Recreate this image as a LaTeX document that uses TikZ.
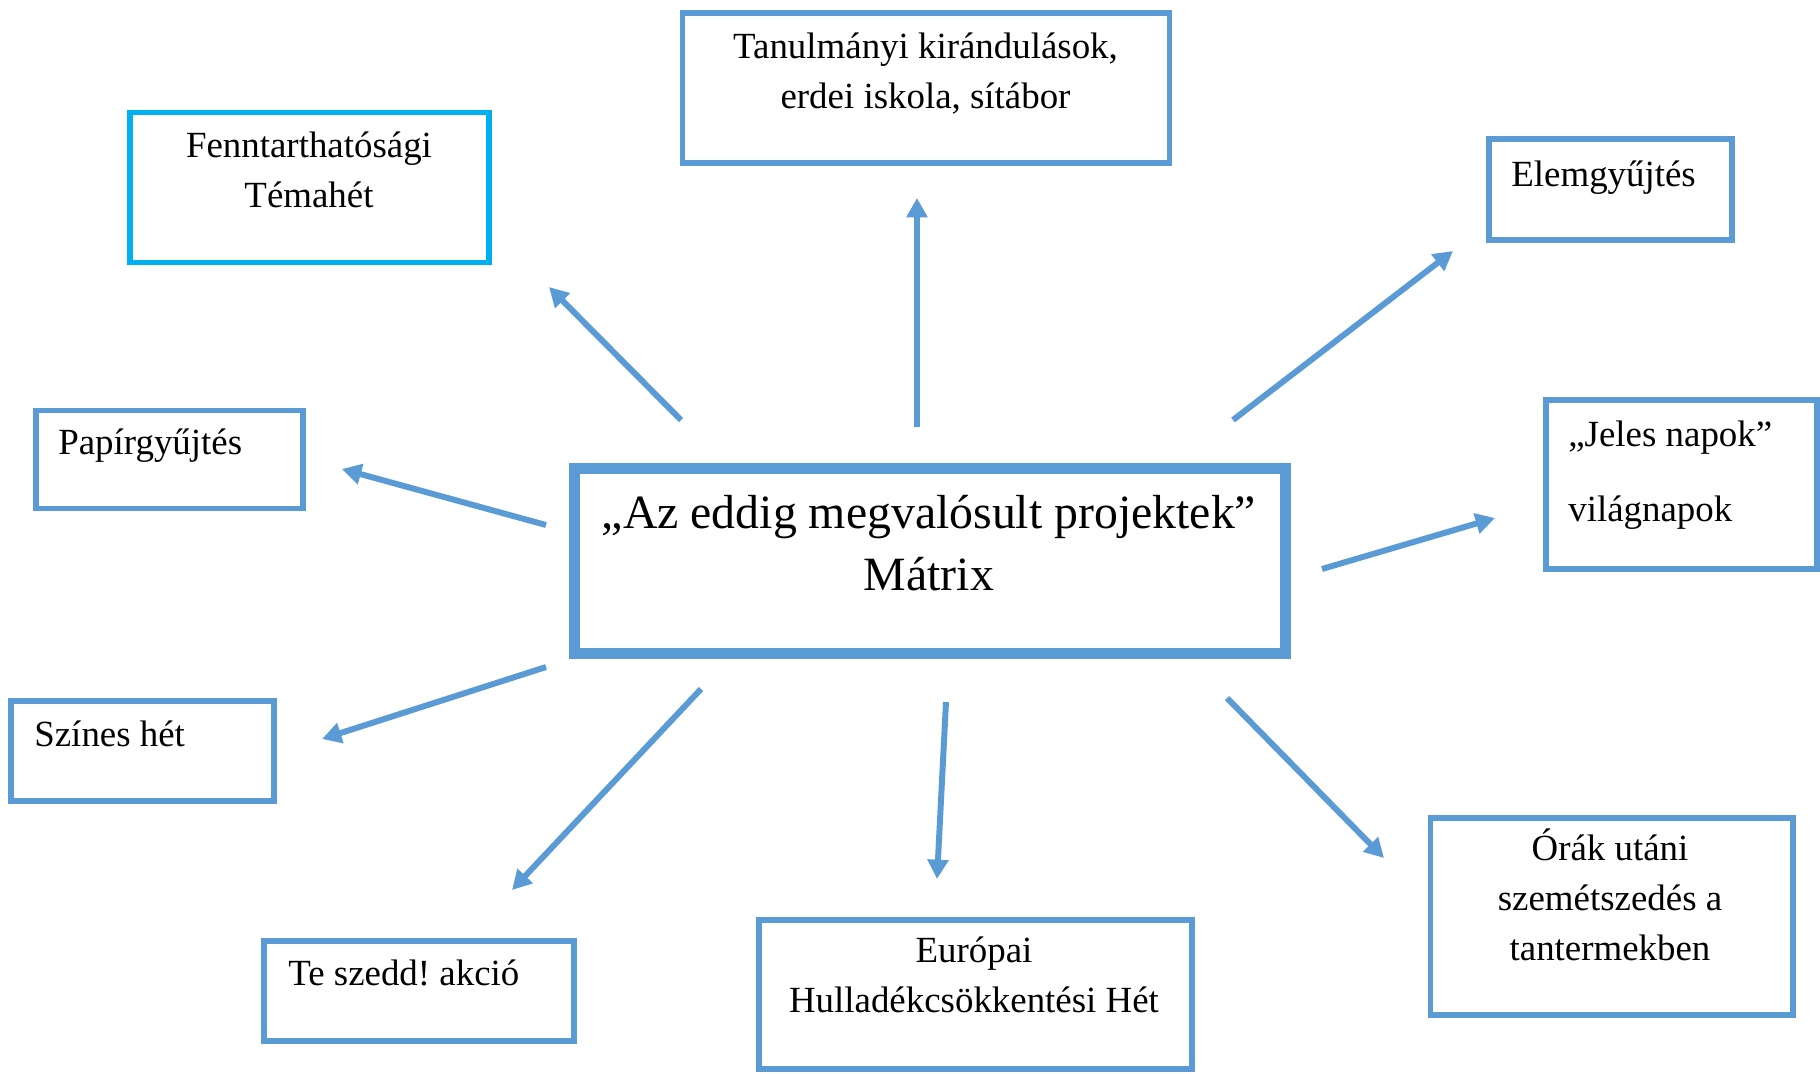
\documentclass[tikz,border=0pt]{standalone}
\usepackage{fontspec}
\setmainfont{Liberation Serif}
\frenchspacing
\usetikzlibrary{positioning, arrows.meta}
\definecolor{accentblue}{RGB}{91,155,213}
\definecolor{skyblue}{RGB}{0,176,240}
\tikzstyle{arrow} = [line width=3.4pt, draw=accentblue, -{Triangle[length=11pt,width=11.5pt]}]
\tikzstyle{projbox} = [rectangle, draw=accentblue, line width=3.4pt]
\tikzstyle{projtext} = [inner sep=0pt, font=\fontsize{21}{28.3}\selectfont]
\tikzset{boxsize/.style 2 args={minimum width=#1*0.02cm, minimum height=#2*0.02cm}}

\begin{document}
\begin{tikzpicture}[x=0.02cm,y=-0.02cm]
	\useasboundingbox (0,0) rectangle (1820,1073);
	% frames
	\node[projbox, line width=6.5pt, boxsize={711}{185}](matrix) at (930,561) {};
	\node[projbox, boxsize={487}{150}](tanul) at (926,88) {};
	\node[projbox, draw=skyblue, boxsize={359}{150}](fennt) at (309.5,187.5) {};
	\node[projbox, boxsize={243}{101}](elem) at (1610.5,189.5) {};
	\node[projbox, boxsize={267}{98}](papir) at (169.5,459.5) {};
	\node[projbox, boxsize={271}{169}](jeles) at (1681.5,484.5) {};
	\node[projbox, boxsize={263}{100}](szines) at (142.5,751) {};
	\node[projbox, boxsize={310}{100}](teszedd) at (419,991) {};
	\node[projbox, boxsize={433}{149}](europai) at (975.5,994) {};
	\node[projbox, boxsize={362}{197}](orak) at (1611.5,916) {};
	% texts (base = last line)
	\node[projtext, anchor=base, align=center, font=\fontsize{27.2}{35.1}\selectfont](matrix_t) at (929,590) {„Az eddig megvalósult projektek”\\Mátrix};
	\node[projtext, anchor=base, align=center](tanul_t) at (925.5,108) {Tanulmányi kirándulások,\\erdei iskola, sítábor};
	\node[projtext, anchor=base, align=center](fennt_t) at (309,207) {Fenntarthatósági\\Témahét};
	\node[projtext, anchor=base west](elem_t) at (1511,186) {Elemgyűjtés};
	\node[projtext, anchor=base west](papir_t) at (58,454) {Papírgyűjtés};
	\node[projtext, anchor=base west, align=left](jeles_t) at (1568,521) {„Jeles napok”\\[14pt]világnapok};
	\node[projtext, anchor=base west](szines_t) at (34,746) {Színes hét};
	\node[projtext, anchor=base west](teszedd_t) at (288,985) {Te szedd! akció};
	\node[projtext, anchor=base, align=center](europai_t) at (974,1012) {Európai\\Hulladékcsökkentési Hét};
	\node[projtext, anchor=base, align=center](orak_t) at (1610,960) {Órák utáni\\szemétszedés a\\tantermekben};
	% arrow ends
	\coordinate (m_n) at (917,427);   \coordinate (to_tanul) at (917,198);
	\coordinate (m_nw) at (681,420);  \coordinate (to_fennt) at (549,287);
	\coordinate (m_ne) at (1233,420); \coordinate (to_elem) at (1453,251);
	\coordinate (m_w) at (546,525);   \coordinate (to_papir) at (342,469);
	\coordinate (m_e) at (1322,569);  \coordinate (to_jeles) at (1495,518);
	\coordinate (m_sw) at (546,667);  \coordinate (to_szines) at (322,739);
	\coordinate (m_ssw) at (701,689); \coordinate (to_teszedd) at (512,890);
	\coordinate (m_s) at (946,702);   \coordinate (to_europai) at (937,879);
	\coordinate (m_se) at (1227,698); \coordinate (to_orak) at (1384,858);
	\draw[arrow] (m_n) -- (to_tanul);
	\draw[arrow] (m_nw) -- (to_fennt);
	\draw[arrow] (m_ne) -- (to_elem);
	\draw[arrow] (m_w) -- (to_papir);
	\draw[arrow] (m_e) -- (to_jeles);
	\draw[arrow] (m_sw) -- (to_szines);
	\draw[arrow] (m_ssw) -- (to_teszedd);
	\draw[arrow] (m_s) -- (to_europai);
	\draw[arrow] (m_se) -- (to_orak);
\end{tikzpicture}
\end{document}
